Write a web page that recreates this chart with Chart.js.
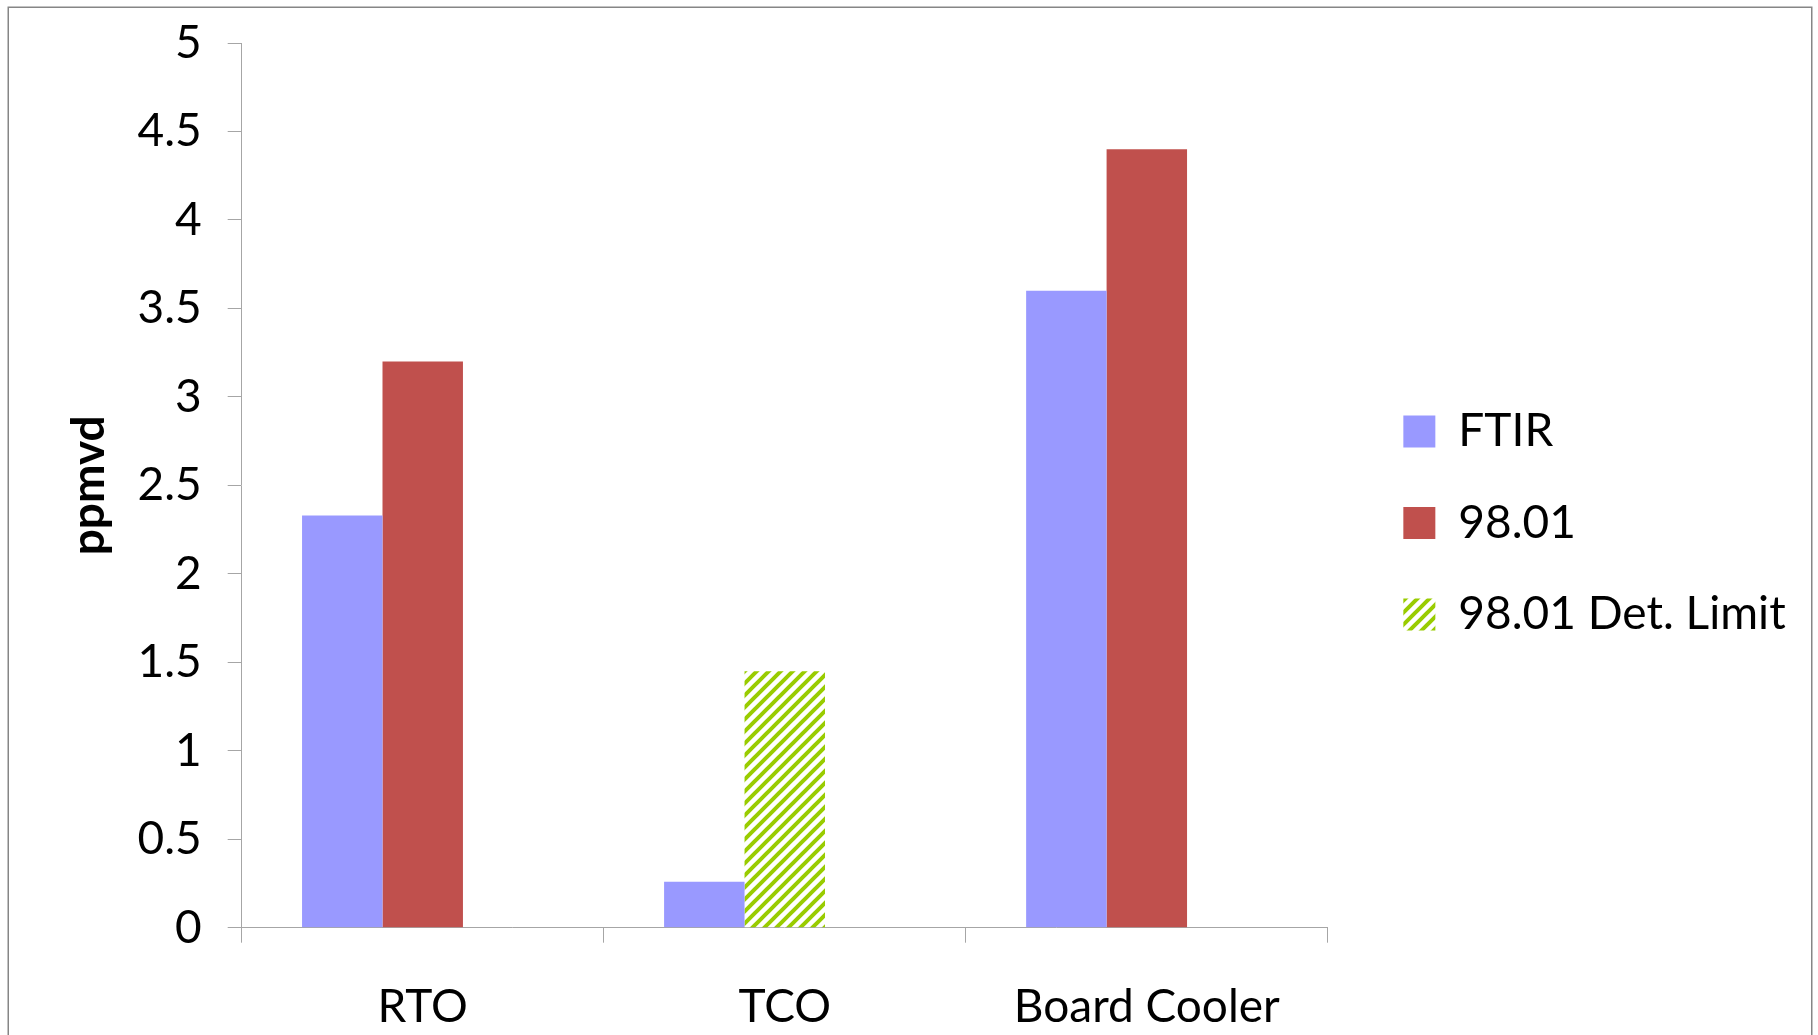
<!DOCTYPE html>
<html>
<head>
<meta charset="utf-8">
<title>ppmvd by source</title>
<script src="https://cdn.jsdelivr.net/npm/chart.js@4.4.1/dist/chart.umd.min.js"></script>
<style>
  html, body { margin: 0; padding: 0; background: #fff; }
  #wrap { width: 1818px; height: 1035px; }
</style>
</head>
<body>
<div id="wrap"><canvas id="chart" width="1818" height="1035"></canvas></div>
<script>
// Sources sampled and measured concentrations (ppmvd)
const categories = ['RTO', 'TCO', 'Board Cooler'];
const ftirValues = [2.33, 0.26, 3.6];
const method9801Values = [3.2, null, 4.4];
const detLimitValues = [null, 1.45, null];
const yTickValues = [0, 0.5, 1, 1.5, 2, 2.5, 3, 3.5, 4, 4.5, 5];

const FONT = 'Lato';
const FONT_SIZE = 46;
const AXIS_GREY = '#a6a6a6';

// Legend geometry
const LEGEND_BOX = 32;
const LEGEND_PAD = 45.5;
const PLOT_RIGHT = 1326;

// Green "wide upward diagonal" hatch used for the detection-limit bar
function makeHatch() {
  const s = 12;
  const tile = document.createElement('canvas');
  tile.width = s; tile.height = s;
  const g = tile.getContext('2d');
  g.fillStyle = '#ffffff';
  g.fillRect(0, 0, s, s);
  g.strokeStyle = '#99cc00';
  g.lineWidth = 4;
  g.lineCap = 'square';
  g.beginPath();
  g.moveTo(-2, s + 2); g.lineTo(s + 2, -2);
  g.moveTo(-2, 2); g.lineTo(2, -2);
  g.moveTo(s - 2, s + 2); g.lineTo(s + 2, s - 2);
  g.stroke();
  return g.createPattern(tile, 'repeat');
}

// Right padding so the plot ends at PLOT_RIGHT with the legend beside it
function rightPadding(labels) {
  const m = document.createElement('canvas').getContext('2d');
  m.font = FONT_SIZE + 'px ' + FONT;
  const widest = Math.max(...labels.map(t => m.measureText(t).width));
  const legendWidth = LEGEND_PAD + LEGEND_BOX + FONT_SIZE / 2 + widest + 10;
  return Math.max(0, 1818 - PLOT_RIGHT - legendWidth);
}

// White page with a thin grey frame
const frame = {
  id: 'frame',
  beforeDraw(chart) {
    const ctx = chart.ctx;
    ctx.save();
    ctx.fillStyle = '#ffffff';
    ctx.fillRect(0, 0, chart.width, chart.height);
    ctx.strokeStyle = '#868686';
    ctx.lineWidth = 1.5;
    ctx.strokeRect(8.25, 7.25, 1803.5, 1100);
    ctx.restore();
  }
};

// Moves the legend block away from the plot edge
const legendOffset = {
  id: 'legendOffset',
  afterLayout(chart) {
    const l = chart.legend;
    if (!l) return;
    l.left += 30; l.right += 30;
    l.top -= 16; l.bottom -= 16;
  }
};

const hatch = makeHatch();
const seriesNames = ['FTIR', '98.01', '98.01 Det. Limit'];

new Chart(document.getElementById('chart'), {
  type: 'bar',
  data: {
    labels: categories,
    datasets: [
      { label: seriesNames[0], data: ftirValues, backgroundColor: '#9999ff', stack: 'a' },
      { label: seriesNames[1], data: method9801Values, backgroundColor: '#c0504d', stack: 'b' },
      { label: seriesNames[2], data: detLimitValues, backgroundColor: hatch, stack: 'b' },
      { label: '', data: [null, null, null], backgroundColor: 'rgba(0,0,0,0)', stack: 'c' }
    ]
  },
  options: {
    responsive: false,
    devicePixelRatio: 1,
    animation: false,
    datasets: {
      bar: { categoryPercentage: 2 / 3, barPercentage: 1, borderWidth: 0 }
    },
    layout: { padding: { left: 20, top: 43, right: rightPadding(seriesNames), bottom: 0 } },
    plugins: {
      tooltip: { enabled: false },
      legend: {
        position: 'right',
        labels: {
          boxWidth: LEGEND_BOX,
          boxHeight: LEGEND_BOX,
          padding: LEGEND_PAD,
          color: '#000',
          font: { family: FONT, size: FONT_SIZE },
          filter: item => item.text !== ''
        }
      }
    },
    scales: {
      x: {
        offset: true,
        grid: { offset: true, drawOnChartArea: false, drawTicks: true, tickLength: 15, color: AXIS_GREY, lineWidth: 1 },
        border: { color: AXIS_GREY, width: 1 },
        ticks: { padding: 37, color: '#000', font: { family: FONT, size: FONT_SIZE }, maxRotation: 0, autoSkip: false },
        afterFit: s => { s.height = 107.3; }
      },
      y: {
        stacked: true,
        min: 0,
        max: 5,
        afterBuildTicks: s => { s.ticks = yTickValues.map(v => ({ value: v })); },
        grid: { drawOnChartArea: false, drawTicks: true, tickLength: 14, color: AXIS_GREY, lineWidth: 1 },
        border: { color: AXIS_GREY, width: 1 },
        ticks: {
          padding: 26,
          color: '#000',
          font: { family: FONT, size: FONT_SIZE },
          callback: v => String(v)
        },
        title: {
          display: true,
          text: 'ppmvd',
          color: '#000',
          font: { family: FONT, size: FONT_SIZE, weight: 'bold' },
          padding: { top: 42, bottom: 0 }
        },
        afterFit: s => { s.width = 221.7; s.paddingTop = 0; s.paddingBottom = 0; }
      }
    }
  },
  plugins: [frame, legendOffset]
});
</script>
</body>
</html>
